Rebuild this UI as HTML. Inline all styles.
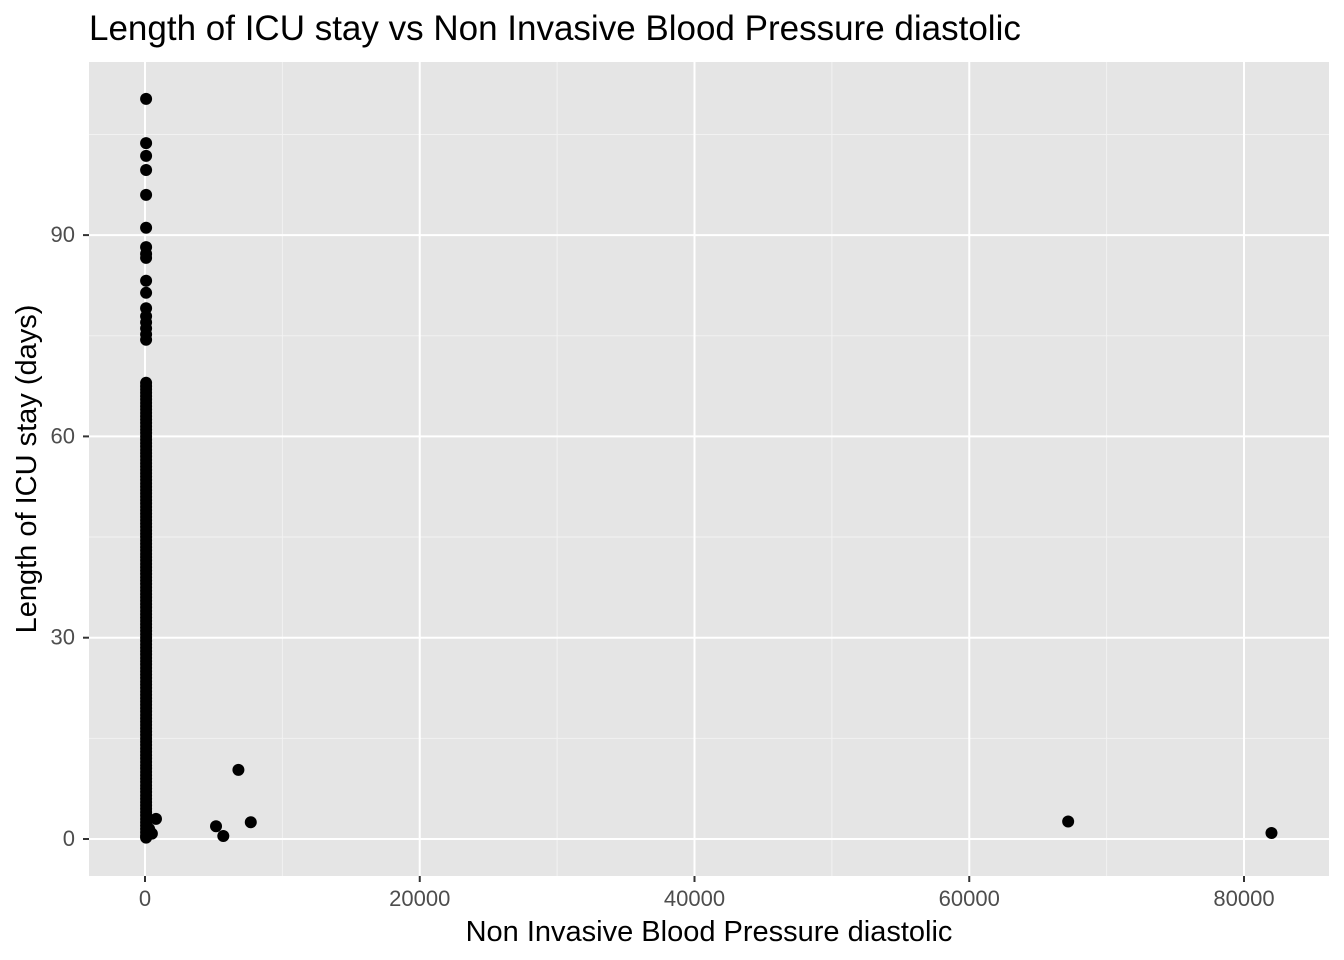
<!DOCTYPE html>
<html><head><meta charset="utf-8"><style>
body{margin:0;background:#fff;}
svg{display:block;font-family:"Liberation Sans",Arial,sans-serif;}
</style></head><body>
<svg id="chart" width="1344" height="960">
<text x="89" y="40" font-size="35" fill="#000">Length of ICU stay vs Non Invasive Blood Pressure diastolic</text>
<rect x="89" y="62" width="1240" height="814" fill="#e5e5e5"/>
<g id="grid"></g><g id="pts"></g><g id="axes"></g>
<text x="709" y="941" font-size="29" text-anchor="middle" fill="#000">Non Invasive Blood Pressure diastolic</text>
<text transform="translate(36,469) rotate(-90)" font-size="29" text-anchor="middle" fill="#000">Length of ICU stay (days)</text>
</svg>
<script>
const xTicks=[0,20000,40000,60000,80000];
const xMinor=[10000,30000,50000,70000];
const yTicks=[0,30,60,90];
const yMinor=[15,45,75,105];
const colY=[110.3,103.7,101.8,99.7,96.0,91.1,88.2,87.2,86.6,83.2,81.4,79.1,77.9,77.0,76.1,75.2,74.4,
68,67.5,67,66.5,66,65.5,65,64.5,64,63.5,63,62.5,62,61.5,61,60.5,60,59.5,59,58.5,58,57.5,57,56.5,56,55.5,55,54.5,54,53.5,53,52.5,52,51.5,51,50.5,50,49.5,49,48.5,48,47.5,47,46.5,46,45.5,45,44.5,44,43.5,43,42.5,42,41.5,41,40.5,40,39.5,39,38.5,38,37.5,37,36.5,36,35.5,35,34.5,34,33.5,33,32.5,32,31.5,31,30.5,30,29.5,29,28.5,28,27.5,27,26.5,26,25.5,25,24.5,24,23.5,23,22.5,22,21.5,21,20.5,20,19.5,19,18.5,18,17.5,17,16.5,16,15.5,15,14.5,14,13.5,13,12.5,12,11.5,11,10.5,10,9.5,9,8.5,8,7.5,7,6.5,6,5.5,5,4.5,4,3.5,3,2.5,2,1.5,1,0.5,0.2];
const colX=[80];
const outX=[300,500,800,5170,5700,6800,7700,67200,82000];
const outY=[1.5,0.8,3.0,1.9,0.45,10.3,2.5,2.6,0.9];
const X=v=>145+v*274.75/20000, Y=v=>839-v*6.71;
const ns="http://www.w3.org/2000/svg";
function mk(tag,attrs,parent){const e=document.createElementNS(ns,tag);for(const k in attrs)e.setAttribute(k,attrs[k]);parent.appendChild(e);return e;}
const g=document.getElementById('grid'),p=document.getElementById('pts'),a=document.getElementById('axes');
xMinor.forEach(v=>{const l=mk('line',{x1:X(v),x2:X(v),y1:62,y2:876,stroke:'#f2f2f2','stroke-width':1},g);

});
yMinor.forEach(v=>{const l=mk('line',{x1:89,x2:1329,y1:Y(v),y2:Y(v),stroke:'#f2f2f2','stroke-width':1},g);

});
xTicks.forEach(v=>{const l=mk('line',{x1:X(v),x2:X(v),y1:62,y2:876,stroke:'#fff','stroke-width':2},g);


const t=mk('line',{x1:X(v),x2:X(v),y1:876,y2:882,stroke:'#333','stroke-width':2},a);


const s=mk('text',{x:X(v),y:906,'font-size':22,fill:'#4d4d4d','text-anchor':'middle'},a);s.textContent=v;

});
yTicks.forEach(v=>{const l=mk('line',{x1:89,x2:1329,y1:Y(v),y2:Y(v),stroke:'#fff','stroke-width':2},g);


const t=mk('line',{x1:83,x2:89,y1:Y(v),y2:Y(v),stroke:'#333','stroke-width':2},a);


const s=mk('text',{x:75,y:Y(v)+7,'font-size':22,fill:'#4d4d4d','text-anchor':'end'},a);s.textContent=v;

});
colY.forEach(v=>{const c=mk('circle',{cx:X(colX[0]),cy:Y(v),r:6,fill:'#000'},p);

});
outX.forEach((v,i)=>{const c=mk('circle',{cx:X(v),cy:Y(outY[i]),r:6,fill:'#000'},p);

});
</script>
</body></html>
